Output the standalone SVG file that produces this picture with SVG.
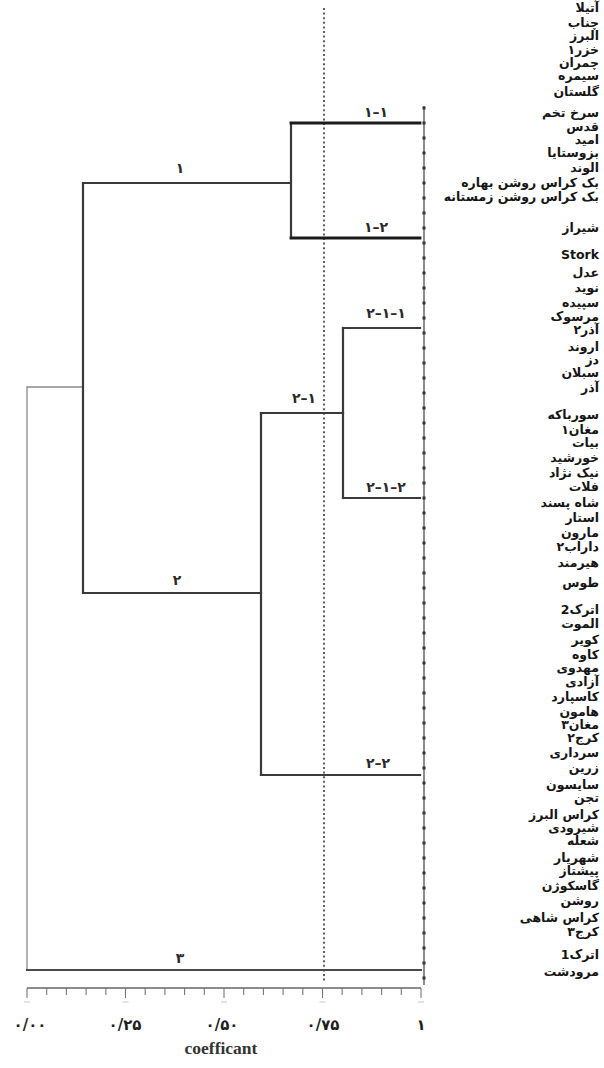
<svg xmlns="http://www.w3.org/2000/svg" width="604" height="1068" viewBox="0 0 604 1068">
<style>
.ln{fill:none;stroke:#3a3a3a;stroke-width:2.2;stroke-linecap:square}
.lnb{fill:none;stroke:#1a1a1a;stroke-width:2.8;stroke-linecap:square}
.lnt{fill:none;stroke:#8a8a8a;stroke-width:1.3}
.dash{fill:none;stroke:#444;stroke-width:1.7;stroke-dasharray:2 2.6}
.ax{fill:none;stroke:#666;stroke-width:1.5}
.tk{fill:none;stroke:#777;stroke-width:1.1}
.lf{font-family:"DejaVu Sans",sans-serif;font-size:12.5px;font-weight:bold;fill:#151515;text-anchor:end}
.cl{font-family:"DejaVu Sans",sans-serif;font-size:14px;font-weight:bold;fill:#2a2a2a;text-anchor:middle}
.tl{font-family:"DejaVu Sans",sans-serif;font-size:15px;font-weight:bold;fill:#1e1e1e;text-anchor:middle}
.cap{font-family:"Liberation Serif",serif;font-size:17.5px;font-weight:bold;fill:#333;text-anchor:middle}
</style>
<rect width="604" height="1068" fill="#ffffff"/>

<g id="cutoff">
<line class="dash" x1="324" y1="8" x2="324" y2="982"/>
</g>

<g id="connectors">
<path class="lnt" d="M83,387 H27 V970"/>
<path class="ln" d="M290,183 H83 V593 H261"/>
<path class="ln" d="M291,123 V238"/>
<path class="lnb" d="M291,123 H420"/>
<path class="lnb" d="M291,238 H420"/>
<path class="ln" d="M261,413 V775"/>
<path class="ln" d="M261,413 H343"/>
<path class="ln" d="M343,328 V498"/>
<path class="ln" d="M343,328 H420"/>
<path class="ln" d="M343,498 H420"/>
<path class="ln" d="M261,775 H420"/>
<path class="ln" d="M27,970 H421" style="stroke:#4a4a4a"/>
</g>

<g id="leaf-axis">
<line class="ax" x1="424" y1="106" x2="424" y2="985"/>
<g fill="#333">
<rect x="422.5" y="106.5" width="3" height="3"/><rect x="422.5" y="121.5" width="3" height="3"/><rect x="422.5" y="136.5" width="3" height="3"/><rect x="422.5" y="151.5" width="3" height="3"/><rect x="422.5" y="166.5" width="3" height="3"/><rect x="422.5" y="181.5" width="3" height="3"/><rect x="422.5" y="196.5" width="3" height="3"/><rect x="422.5" y="211.5" width="3" height="3"/><rect x="422.5" y="226.5" width="3" height="3"/><rect x="422.5" y="241.5" width="3" height="3"/><rect x="422.5" y="256.5" width="3" height="3"/><rect x="422.5" y="271.5" width="3" height="3"/><rect x="422.5" y="286.5" width="3" height="3"/><rect x="422.5" y="301.5" width="3" height="3"/><rect x="422.5" y="316.5" width="3" height="3"/><rect x="422.5" y="331.5" width="3" height="3"/><rect x="422.5" y="346.5" width="3" height="3"/><rect x="422.5" y="361.5" width="3" height="3"/><rect x="422.5" y="376.5" width="3" height="3"/><rect x="422.5" y="391.5" width="3" height="3"/><rect x="422.5" y="406.5" width="3" height="3"/><rect x="422.5" y="421.5" width="3" height="3"/><rect x="422.5" y="436.5" width="3" height="3"/><rect x="422.5" y="451.5" width="3" height="3"/><rect x="422.5" y="466.5" width="3" height="3"/><rect x="422.5" y="481.5" width="3" height="3"/><rect x="422.5" y="496.5" width="3" height="3"/><rect x="422.5" y="511.5" width="3" height="3"/><rect x="422.5" y="526.5" width="3" height="3"/><rect x="422.5" y="541.5" width="3" height="3"/><rect x="422.5" y="556.5" width="3" height="3"/><rect x="422.5" y="571.5" width="3" height="3"/><rect x="422.5" y="586.5" width="3" height="3"/><rect x="422.5" y="601.5" width="3" height="3"/><rect x="422.5" y="616.5" width="3" height="3"/><rect x="422.5" y="631.5" width="3" height="3"/><rect x="422.5" y="646.5" width="3" height="3"/><rect x="422.5" y="661.5" width="3" height="3"/><rect x="422.5" y="676.5" width="3" height="3"/><rect x="422.5" y="691.5" width="3" height="3"/><rect x="422.5" y="706.5" width="3" height="3"/><rect x="422.5" y="721.5" width="3" height="3"/><rect x="422.5" y="736.5" width="3" height="3"/><rect x="422.5" y="751.5" width="3" height="3"/><rect x="422.5" y="766.5" width="3" height="3"/><rect x="422.5" y="781.5" width="3" height="3"/><rect x="422.5" y="796.5" width="3" height="3"/><rect x="422.5" y="811.5" width="3" height="3"/><rect x="422.5" y="826.5" width="3" height="3"/><rect x="422.5" y="841.5" width="3" height="3"/><rect x="422.5" y="856.5" width="3" height="3"/><rect x="422.5" y="871.5" width="3" height="3"/><rect x="422.5" y="886.5" width="3" height="3"/><rect x="422.5" y="901.5" width="3" height="3"/><rect x="422.5" y="916.5" width="3" height="3"/><rect x="422.5" y="931.5" width="3" height="3"/><rect x="422.5" y="946.5" width="3" height="3"/><rect x="422.5" y="961.5" width="3" height="3"/><rect x="422.5" y="976.5" width="3" height="3"/>
</g>
</g>

<g id="cluster-labels">
<text class="cl" x="180" y="173">۱</text>
<text class="cl" x="177" y="585">۲</text>
<text class="cl" x="180" y="963">۳</text>
<text class="cl" x="376" y="117" letter-spacing="3">۱–۱</text>
<text class="cl" x="376" y="232" letter-spacing="3">۱–۲</text>
<text class="cl" x="386" y="318" letter-spacing="3">۲–۱–۱</text>
<text class="cl" x="304" y="403" letter-spacing="3">۲–۱</text>
<text class="cl" x="386" y="492" letter-spacing="3">۲–۱–۲</text>
<text class="cl" x="378" y="768" letter-spacing="3">۲–۲</text>
</g>

<g id="x-axis">
<line class="ax" x1="27" y1="988" x2="421" y2="988"/>
<path class="tk" d="M27,988V998 M46.7,988V995 M66.4,988V995 M86.1,988V995 M105.8,988V995 M125.5,988V998 M145.2,988V995 M164.9,988V995 M184.6,988V995 M204.3,988V995 M224,988V998 M243.7,988V995 M263.4,988V995 M283.1,988V995 M302.8,988V995 M322.5,988V998 M342.2,988V995 M361.9,988V995 M381.6,988V995 M401.3,988V995 M421,988V998"/>
<path d="M24,1002h6 M122.5,1002h6 M221,1002h6 M319.5,1002h6 M418,1002h6" stroke="#c8c8c8" stroke-width="1.2"/>
<text class="tl" x="30" y="1030">۰/۰۰</text>
<text class="tl" x="125" y="1030">۰/۲۵</text>
<text class="tl" x="222" y="1030">۰/۵۰</text>
<text class="tl" x="323" y="1030">۰/۷۵</text>
<text class="tl" x="421" y="1030">۱</text>
<text class="cap" x="221" y="1054">coefficant</text>
</g>

<g id="leaf-labels">
<text class="lf" x="599" y="12">آتیلا</text>
<text class="lf" x="599" y="27">چناب</text>
<text class="lf" x="599" y="40">البرز</text>
<text class="lf" x="599" y="54">خزر۱</text>
<text class="lf" x="599" y="67">چمران</text>
<text class="lf" x="599" y="80">سیمره</text>
<text class="lf" x="599" y="96">گلستان</text>
<text class="lf" x="599" y="117">سرخ تخم</text>
<text class="lf" x="599" y="131">قدس</text>
<text class="lf" x="599" y="144">امید</text>
<text class="lf" x="599" y="157">بزوستایا</text>
<text class="lf" x="599" y="172">الوند</text>
<text class="lf" x="599" y="187">بک کراس روشن بهاره</text>
<text class="lf" x="599" y="201">بک کراس روشن زمستانه</text>
<text class="lf" x="599" y="232">شیراز</text>
<text class="lf" x="599" y="259">Stork</text>
<text class="lf" x="599" y="277">عدل</text>
<text class="lf" x="599" y="292">نوید</text>
<text class="lf" x="599" y="307">سپیده</text>
<text class="lf" x="599" y="321">مرسوک</text>
<text class="lf" x="599" y="334">آذر۲</text>
<text class="lf" x="599" y="351">اروند</text>
<text class="lf" x="599" y="364">دز</text>
<text class="lf" x="599" y="377">سبلان</text>
<text class="lf" x="599" y="392">آذر</text>
<text class="lf" x="599" y="419">سورباکه</text>
<text class="lf" x="599" y="434">مغان۱</text>
<text class="lf" x="599" y="447">بیات</text>
<text class="lf" x="599" y="462">خورشید</text>
<text class="lf" x="599" y="477">نیک نژاد</text>
<text class="lf" x="599" y="491">فلات</text>
<text class="lf" x="599" y="507">شاه پسند</text>
<text class="lf" x="599" y="522">استار</text>
<text class="lf" x="599" y="537">مارون</text>
<text class="lf" x="599" y="551">داراب۲</text>
<text class="lf" x="599" y="567">هیرمند</text>
<text class="lf" x="599" y="587">طوس</text>
<text class="lf" x="599" y="614">اترک2</text>
<text class="lf" x="599" y="628">الموت</text>
<text class="lf" x="599" y="644">کویر</text>
<text class="lf" x="599" y="659">کاوه</text>
<text class="lf" x="599" y="672">مهدوی</text>
<text class="lf" x="599" y="686">آزادی</text>
<text class="lf" x="599" y="701">کاسپارد</text>
<text class="lf" x="599" y="716">هامون</text>
<text class="lf" x="599" y="729">مغان۳</text>
<text class="lf" x="599" y="742">کرج۲</text>
<text class="lf" x="599" y="757">سرداری</text>
<text class="lf" x="599" y="772">زرین</text>
<text class="lf" x="599" y="789">سایسون</text>
<text class="lf" x="599" y="802">تجن</text>
<text class="lf" x="599" y="819">کراس البرز</text>
<text class="lf" x="599" y="832">شیرودی</text>
<text class="lf" x="599" y="845">شعله</text>
<text class="lf" x="599" y="862">شهریار</text>
<text class="lf" x="599" y="875">پیشتاز</text>
<text class="lf" x="599" y="890">گاسکوژن</text>
<text class="lf" x="599" y="905">روشن</text>
<text class="lf" x="599" y="922">کراس شاهی</text>
<text class="lf" x="599" y="936">کرج۳</text>
<text class="lf" x="599" y="959">اترک1</text>
<text class="lf" x="599" y="976">مرودشت</text>
</g>
</svg>
